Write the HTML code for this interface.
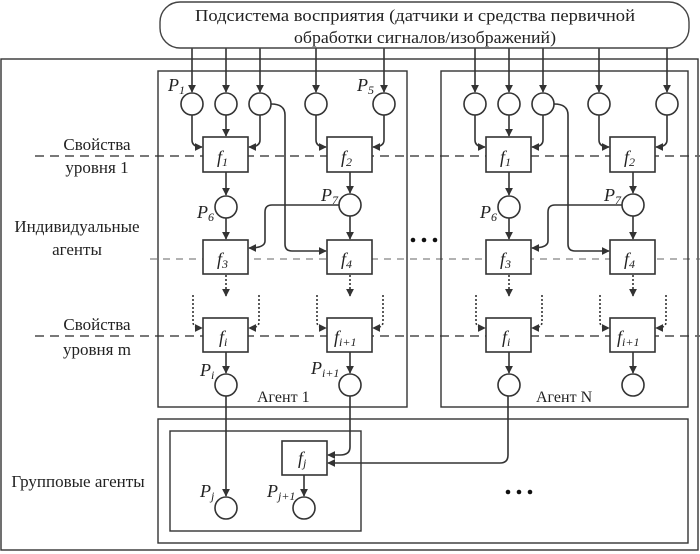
<!DOCTYPE html>
<html><head><meta charset="utf-8"><style>
html,body{margin:0;padding:0;background:#fff;}
svg{display:block;}
text{font-family:"Liberation Serif",serif;fill:#222;}
.it{font-style:italic;}
</style></head><body>
<svg width="700" height="554" viewBox="0 0 700 554" xmlns="http://www.w3.org/2000/svg">
<defs>
<marker id="a" viewBox="0 0 10 10" refX="9" refY="5" markerWidth="8" markerHeight="8" orient="auto-start-reverse" markerUnits="userSpaceOnUse"><path d="M0,0 L10,5 L0,10 z" fill="#333"/></marker>
<g id="agent" fill="none" stroke="#333" stroke-width="1.6">
  <line x1="192" y1="48" x2="192" y2="92" marker-end="url(#a)"/>
  <line x1="226" y1="48" x2="226" y2="92" marker-end="url(#a)"/>
  <line x1="260" y1="48" x2="260" y2="92" marker-end="url(#a)"/>
  <line x1="316" y1="48" x2="316" y2="92" marker-end="url(#a)"/>
  <line x1="384" y1="48" x2="384" y2="92" marker-end="url(#a)"/>
  <circle cx="192" cy="104" r="11"/><circle cx="226" cy="104" r="11"/><circle cx="260" cy="104" r="11"/>
  <circle cx="316" cy="104" r="11"/><circle cx="384" cy="104" r="11"/>
  <path d="M192,115 V140 Q192,147 202,147" marker-end="url(#a)"/>
  <line x1="226" y1="115" x2="226" y2="136" marker-end="url(#a)"/>
  <path d="M260,115 V140 Q260,147 249,147" marker-end="url(#a)"/>
  <path d="M316,115 V140 Q316,147 326,147" marker-end="url(#a)"/>
  <path d="M384,115 V140 Q384,147 373,147" marker-end="url(#a)"/>
  <rect x="203" y="137" width="45" height="35" fill="#fff"/>
  <rect x="327" y="137" width="45" height="35" fill="#fff"/>
  <line x1="226" y1="172" x2="226" y2="195" marker-end="url(#a)"/>
  <line x1="350" y1="172" x2="350" y2="193" marker-end="url(#a)"/>
  <circle cx="226" cy="207" r="11"/><circle cx="350" cy="205" r="11"/>
  <line x1="226" y1="218" x2="226" y2="239" marker-end="url(#a)"/>
  <line x1="350" y1="216" x2="350" y2="239" marker-end="url(#a)"/>
  <path d="M339,205 H272 Q265,205 265,212 V241 Q265,248 249,248" marker-end="url(#a)"/>
  <path d="M271,104 Q285,104 285,115 V244 Q285,251 292,251 H326" marker-end="url(#a)"/>
  <rect x="203" y="240" width="45" height="34" fill="#fff"/>
  <rect x="327" y="240" width="45" height="34" fill="#fff"/>
  <g stroke-dasharray="2,2">
    <line x1="226" y1="275" x2="226" y2="296" marker-end="url(#a)"/>
    <line x1="350" y1="275" x2="350" y2="296" marker-end="url(#a)"/>
    <path d="M193,295 V322 Q193,328 202,328" marker-end="url(#a)"/>
    <path d="M259,295 V322 Q259,328 249,328" marker-end="url(#a)"/>
    <path d="M317,295 V322 Q317,328 326,328" marker-end="url(#a)"/>
    <path d="M383,295 V322 Q383,328 373,328" marker-end="url(#a)"/>
  </g>
  <rect x="203" y="318" width="45" height="34" fill="#fff"/>
  <rect x="327" y="318" width="45" height="34" fill="#fff"/>
  <line x1="226" y1="352" x2="226" y2="373" marker-end="url(#a)"/>
  <line x1="350" y1="352" x2="350" y2="373" marker-end="url(#a)"/>
  <circle cx="226" cy="385" r="11"/><circle cx="350" cy="385" r="11"/>
</g>
<g id="flab" font-size="18" class="it">
  <text x="217" y="163">f<tspan font-size="12" dy="3">1</tspan></text>
  <text x="341" y="163">f<tspan font-size="12" dy="3">2</tspan></text>
  <text x="217" y="265">f<tspan font-size="12" dy="3">3</tspan></text>
  <text x="341" y="265">f<tspan font-size="12" dy="3">4</tspan></text>
  <text x="219" y="343">f<tspan font-size="12" dy="3">i</tspan></text>
  <text x="334" y="343">f<tspan font-size="12" dy="3">i+1</tspan></text>
  <text x="197" y="218">P<tspan font-size="12" dy="3">6</tspan></text>
  <text x="321" y="201">P<tspan font-size="12" dy="3">7</tspan></text>
</g>
</defs>

<rect x="1" y="59" width="697" height="491" fill="none" stroke="#333" stroke-width="1.4"/>
<line x1="35" y1="156" x2="700" y2="156" stroke="#666" stroke-width="1.8" stroke-dasharray="9,6"/>
<line x1="150" y1="259" x2="700" y2="259" stroke="#666" stroke-width="1" stroke-dasharray="7,6"/>
<line x1="35" y1="336" x2="700" y2="336" stroke="#666" stroke-width="1.8" stroke-dasharray="9,6"/>

<rect x="158" y="71" width="249" height="336" fill="none" stroke="#333" stroke-width="1.4"/>
<rect x="441" y="71" width="247" height="336" fill="none" stroke="#333" stroke-width="1.4"/>

<use href="#agent"/>
<use href="#agent" transform="translate(283,0)"/>
<use href="#flab"/>
<use href="#flab" transform="translate(283,0)"/>

<rect x="160" y="2" width="529" height="46" rx="20" fill="#fff" stroke="#444" stroke-width="1.4"/>
<text x="415" y="21" font-size="17" text-anchor="middle" textLength="440" lengthAdjust="spacingAndGlyphs">Подсистема восприятия (датчики и средства первичной</text>
<text x="425" y="43" font-size="17" text-anchor="middle" textLength="262" lengthAdjust="spacingAndGlyphs">обработки сигналов/изображений)</text>

<text x="257" y="402" font-size="16">Агент 1</text>
<text x="536" y="402" font-size="16">Агент N</text>

<circle cx="413" cy="240" r="2.3" fill="#111"/><circle cx="424" cy="240" r="2.3" fill="#111"/><circle cx="435" cy="240" r="2.3" fill="#111"/>
<circle cx="508" cy="492" r="2.3" fill="#111"/><circle cx="519" cy="492" r="2.3" fill="#111"/><circle cx="530" cy="492" r="2.3" fill="#111"/>

<g fill="none" stroke="#333" stroke-width="1.6">
<rect x="158" y="419" width="530" height="124" stroke-width="1.4"/>
<rect x="170" y="431" width="191" height="100" stroke-width="1.4"/>
<rect x="282" y="441" width="45" height="34" fill="#fff"/>
<line x1="226" y1="396" x2="226" y2="496" marker-end="url(#a)"/>
<circle cx="226" cy="508" r="11"/>
<line x1="304" y1="475" x2="304" y2="496" marker-end="url(#a)"/>
<circle cx="304" cy="508" r="11"/>
<path d="M350,396 V447 Q350,455 340,455 H328" marker-end="url(#a)"/>
<path d="M508,396 V455 Q508,463 500,463 H328" marker-end="url(#a)"/>
</g>

<g font-size="18" class="it">
<text x="168" y="91">P<tspan font-size="12" dy="3">1</tspan></text>
<text x="357" y="91">P<tspan font-size="12" dy="3">5</tspan></text>
<text x="200" y="376">P<tspan font-size="12" dy="3">i</tspan></text>
<text x="311" y="374">P<tspan font-size="12" dy="3">i+1</tspan></text>
<text x="200" y="497">P<tspan font-size="12" dy="3">j</tspan></text>
<text x="267" y="497">P<tspan font-size="12" dy="3">j+1</tspan></text>
<text x="298" y="464">f<tspan font-size="12" dy="3">j</tspan></text>
</g>

<g font-size="17" text-anchor="middle">
<text x="97" y="150">Свойства</text>
<text x="97" y="173">уровня 1</text>
<text x="77" y="232">Индивидуальные</text>
<text x="77" y="255">агенты</text>
<text x="97" y="330">Свойства</text>
<text x="97" y="355">уровня m</text>
<text x="78" y="487">Групповые агенты</text>
</g>
</svg>
</body></html>
